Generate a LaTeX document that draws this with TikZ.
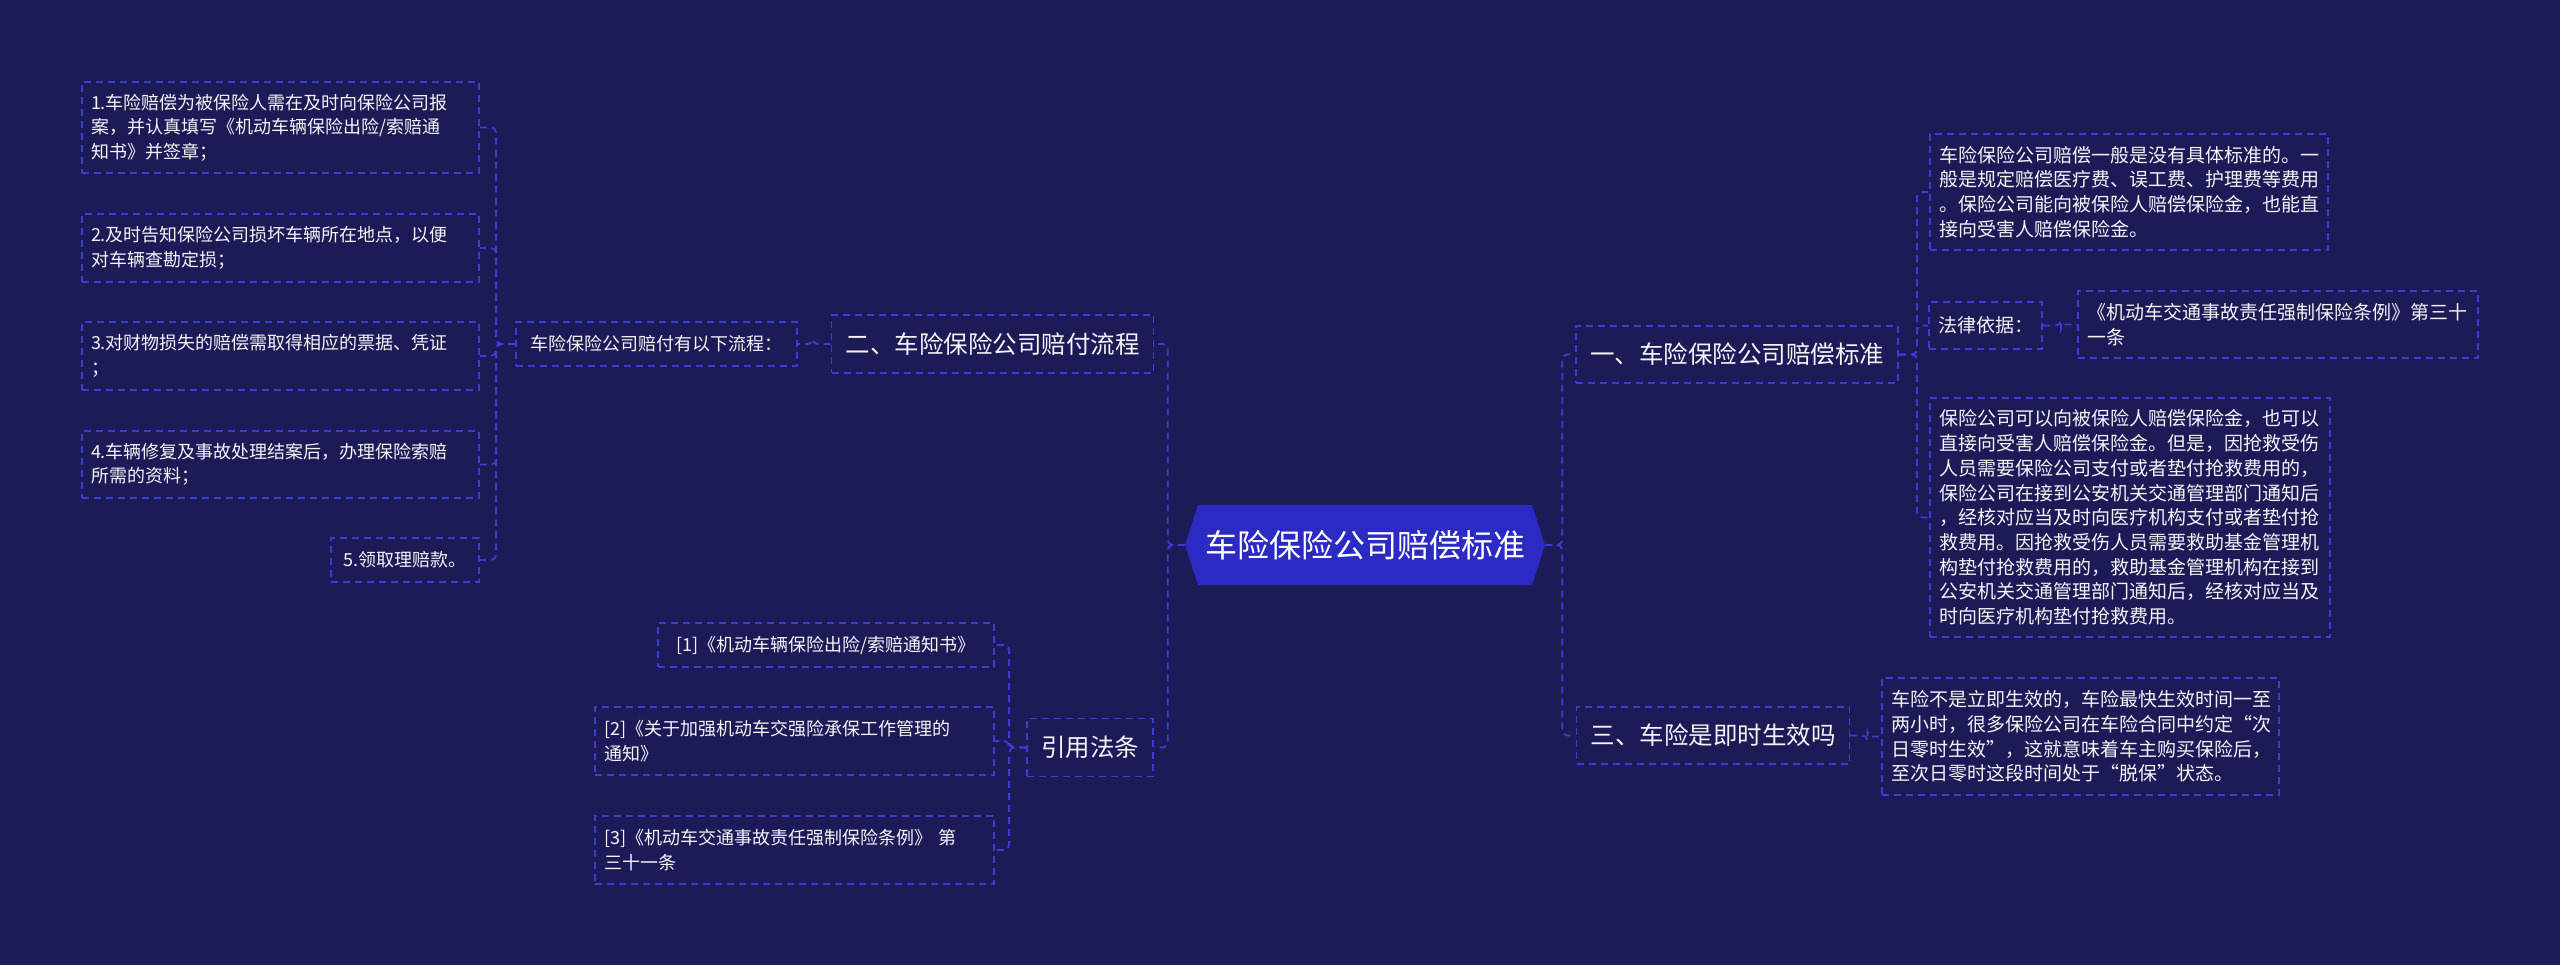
\documentclass[tikz,border=0pt]{standalone}
\usepackage{fontspec}
\setmainfont{Noto Sans CJK SC}
\definecolor{bg}{HTML}{1C1B57}
\definecolor{hexc}{HTML}{2B2BC4}
\definecolor{dashc}{HTML}{3C3CD4}
\definecolor{txt}{HTML}{F4F4F8}
\tikzset{
  box/.style={draw=dashc, line width=1.8pt, dash pattern=on 7pt off 5pt, text=txt, align=left, inner xsep=9pt, inner ysep=0pt, anchor=center},
  conn/.style={draw=dashc, line width=1.8pt, dash pattern=on 7pt off 5pt, rounded corners=5pt},
  smL/.style={box, font=\fontsize{18}{24.5}\selectfont},
  smR/.style={box, font=\fontsize{19}{24.7}\selectfont},
  lvl/.style={box, inner xsep=14pt, font=\fontsize{24.5}{30}\selectfont},
  roottext/.style={text=white, inner sep=0pt, minimum width=360pt, minimum height=80pt, font=\fontsize{32}{38}\selectfont}
}
\begin{document}
\begin{tikzpicture}[x=1pt,y=-1pt]
\fill[bg] (0,0) rectangle (2560,965);
\useasboundingbox (0,0) rectangle (2560,965);
% root hexagon
\fill[hexc] (1185,545) -- (1198,505) -- (1532,505) -- (1545,545) -- (1532,585) -- (1198,585) -- cycle;
\node[roottext] (root) at (1365,545) {车险保险公司赔偿标准};

% left main branch
\node[lvl, minimum width=319pt, minimum height=58pt] (er) at (992.5,344) {二、车险保险公司赔付流程};
\node[smL, minimum width=281pt, minimum height=44pt] (intro) at (656.5,344) {车险保险公司赔付有以下流程：};
\node[smL, text width=379pt, minimum height=91pt] (b1) at (280.5,127.5) {1.车险赔偿为被保险人需在及时向保险公司报\\案，并认真填写《机动车辆保险出险/索赔通\\知书》并签章；};
\node[smL, text width=379pt, minimum height=68pt] (b2) at (280.5,248) {2.及时告知保险公司损坏车辆所在地点，以便\\对车辆查勘定损；};
\node[smL, text width=379pt, minimum height=68pt] (b3) at (280.5,356) {3.对财物损失的赔偿需取得相应的票据、凭证\\；};
\node[smL, text width=379pt, minimum height=67pt] (b4) at (280.5,464.5) {4.车辆修复及事故处理结案后，办理保险索赔\\所需的资料；};
\node[smL, minimum width=148pt, minimum height=44pt] (b5) at (405,560) {5.领取理赔款。};

% citations
\node[lvl, minimum width=122pt, minimum height=58pt] (cite) at (1090,747.5) {引用法条};
\node[smL, minimum width=336pt, minimum height=44pt] (r1) at (826,645) {[1]《机动车辆保险出险/索赔通知书》};
\node[smL, text width=381pt, minimum height=68pt] (r2) at (794.5,741) {[2]《关于加强机动车交强险承保工作管理的\\通知》};
\node[smL, text width=381pt, minimum height=68pt] (r3) at (794.5,850) {[3]《机动车交通事故责任强制保险条例》 第\\三十一条};

% right branch one
\node[lvl, minimum width=316pt, minimum height=57pt] (yi) at (1737,354.5) {一、车险保险公司赔偿标准};
\node[smR, text width=380pt, minimum height=116pt] (ya) at (2129,192) {车险保险公司赔偿一般是没有具体标准的。一\\般是规定赔偿医疗费、误工费、护理费等费用\\。保险公司能向被保险人赔偿保险金，也能直\\接向受害人赔偿保险金。};
\node[smR, minimum width=111pt, minimum height=47pt] (fl) at (1985.5,325.5) {法律依据：};
\node[smR, text width=382pt, minimum height=67pt] (law) at (2278,324.5) {《机动车交通事故责任强制保险条例》第三十\\一条};
\node[smR, text width=382pt, minimum height=239pt] (yc) at (2130,517.5) {保险公司可以向被保险人赔偿保险金，也可以\\直接向受害人赔偿保险金。但是，因抢救受伤\\人员需要保险公司支付或者垫付抢救费用的，\\保险公司在接到公安机关交通管理部门通知后\\，经核对应当及时向医疗机构支付或者垫付抢\\救费用。因抢救受伤人员需要救助基金管理机\\构垫付抢救费用的，救助基金管理机构在接到\\公安机关交通管理部门通知后，经核对应当及\\时向医疗机构垫付抢救费用。};

% right branch three
\node[lvl, minimum width=268pt, minimum height=57pt] (san) at (1713,735.5) {三、车险是即时生效吗};
\node[smR, text width=379pt, minimum height=117pt] (sd) at (2080.5,736.5) {车险不是立即生效的，车险最快生效时间一至\\两小时，很多保险公司在车险合同中约定“次\\日零时生效”，这就意味着车主购买保险后，\\至次日零时这段时间处于“脱保”状态。};

% connectors
\draw[conn] (root.west) -- ++(-17,0) |- (er.east);
\draw[conn] (root.west) -- ++(-17,0) |- (cite.east);
\draw[conn] (er.west) -- ++(-18,0) |- (intro.east);
\foreach \c in {b1,b2,b3,b4,b5} \draw[conn] (intro.west) -- ++(-19,0) |- (\c.east);
\foreach \c in {r1,r2,r3} \draw[conn] (cite.west) -- ++(-17,0) |- (\c.east);
\draw[conn] (root.east) -- ++(17,0) |- (yi.west);
\draw[conn] (root.east) -- ++(17,0) |- (san.west);
\foreach \c in {ya,fl,yc} \draw[conn] (yi.east) -- ++(18,0) |- (\c.west);
\draw[conn] (fl.east) -- ++(18,0) |- (law.west);
\draw[conn] (san.east) -- ++(17,0) |- (sd.west);
\end{tikzpicture}
\end{document}
